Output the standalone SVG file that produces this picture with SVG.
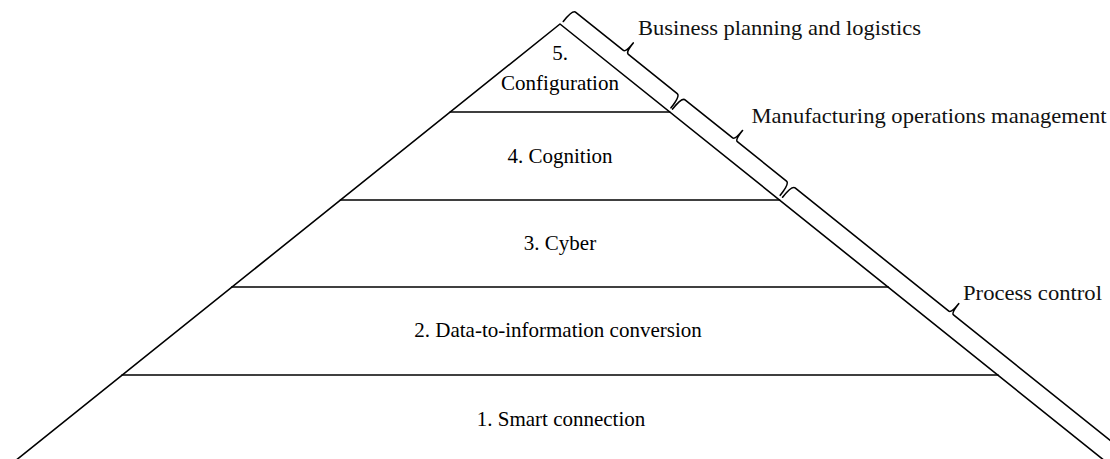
<svg xmlns="http://www.w3.org/2000/svg" width="1110" height="459" viewBox="0 0 1110 459">
  <style>
    .ln { fill: none; stroke: #000; stroke-width: 1.6; stroke-linejoin: round; stroke-linecap: round; }
    .lbl { font-family: 'Liberation Serif', serif; font-size: 21px; fill: #000; text-anchor: middle; }
    .side { font-family: 'Liberation Serif', serif; font-size: 21px; fill: #111; }
  </style>
  <rect width="1110" height="459" fill="#fff"/>
  <g id="connectors">
    <path id="pyramid-outline" class="ln" d="M16.3,460 L560,24 L1103.7,460"/>
  </g>
  <g id="layer5">
    <text class="lbl" x="560" y="60">5.</text>
    <text class="lbl" x="560" y="90">Configuration</text>
  </g>
  <g id="layer4">
    <line class="ln" x1="450.2" y1="112" x2="669.8" y2="112"/>
    <text class="lbl" x="560" y="163">4. Cognition</text>
  </g>
  <g id="layer3">
    <line class="ln" x1="340.4" y1="200" x2="779.6" y2="200"/>
    <text class="lbl" x="560" y="250">3. Cyber</text>
  </g>
  <g id="layer2">
    <line class="ln" x1="231.8" y1="287" x2="888.2" y2="287"/>
    <text class="lbl" x="558" y="337">2. Data-to-information conversion</text>
  </g>
  <g id="layer1">
    <line class="ln" x1="122" y1="375" x2="998" y2="375"/>
    <text class="lbl" x="561" y="426">1. Smart connection</text>
  </g>
  <g id="brackets" transform="translate(560,24) rotate(38.7)">
    <g id="bracket-business">
      <path class="ln" d="M1,-4 Q1,-19 5,-19 L66,-19 Q69,-19 69,-31 Q69,-19 72,-19 L135,-19 Q139,-19 139,-4"/>
    </g>
    <g id="bracket-manufacturing">
      <path class="ln" d="M141,-4 Q141,-19 145,-19 L206,-19 Q209,-19 209,-31 Q209,-19 212,-19 L275,-19 Q279,-19 279,-4"/>
    </g>
    <g id="bracket-process">
      <path class="ln" d="M282,-4 Q282,-19 286,-19 L483,-19 Q486,-19 486,-31 Q486,-19 489,-19 L700,-19 Q704,-19 704,-4"/>
    </g>
  </g>
  <g id="label-business">
    <text class="side" x="638" y="35" textLength="283" lengthAdjust="spacingAndGlyphs">Business planning and logistics</text>
  </g>
  <g id="label-manufacturing">
    <text class="side" x="751.5" y="123" textLength="355" lengthAdjust="spacingAndGlyphs">Manufacturing operations management</text>
  </g>
  <g id="label-process">
    <text class="side" x="963" y="300" textLength="139" lengthAdjust="spacingAndGlyphs">Process control</text>
  </g>
</svg>
